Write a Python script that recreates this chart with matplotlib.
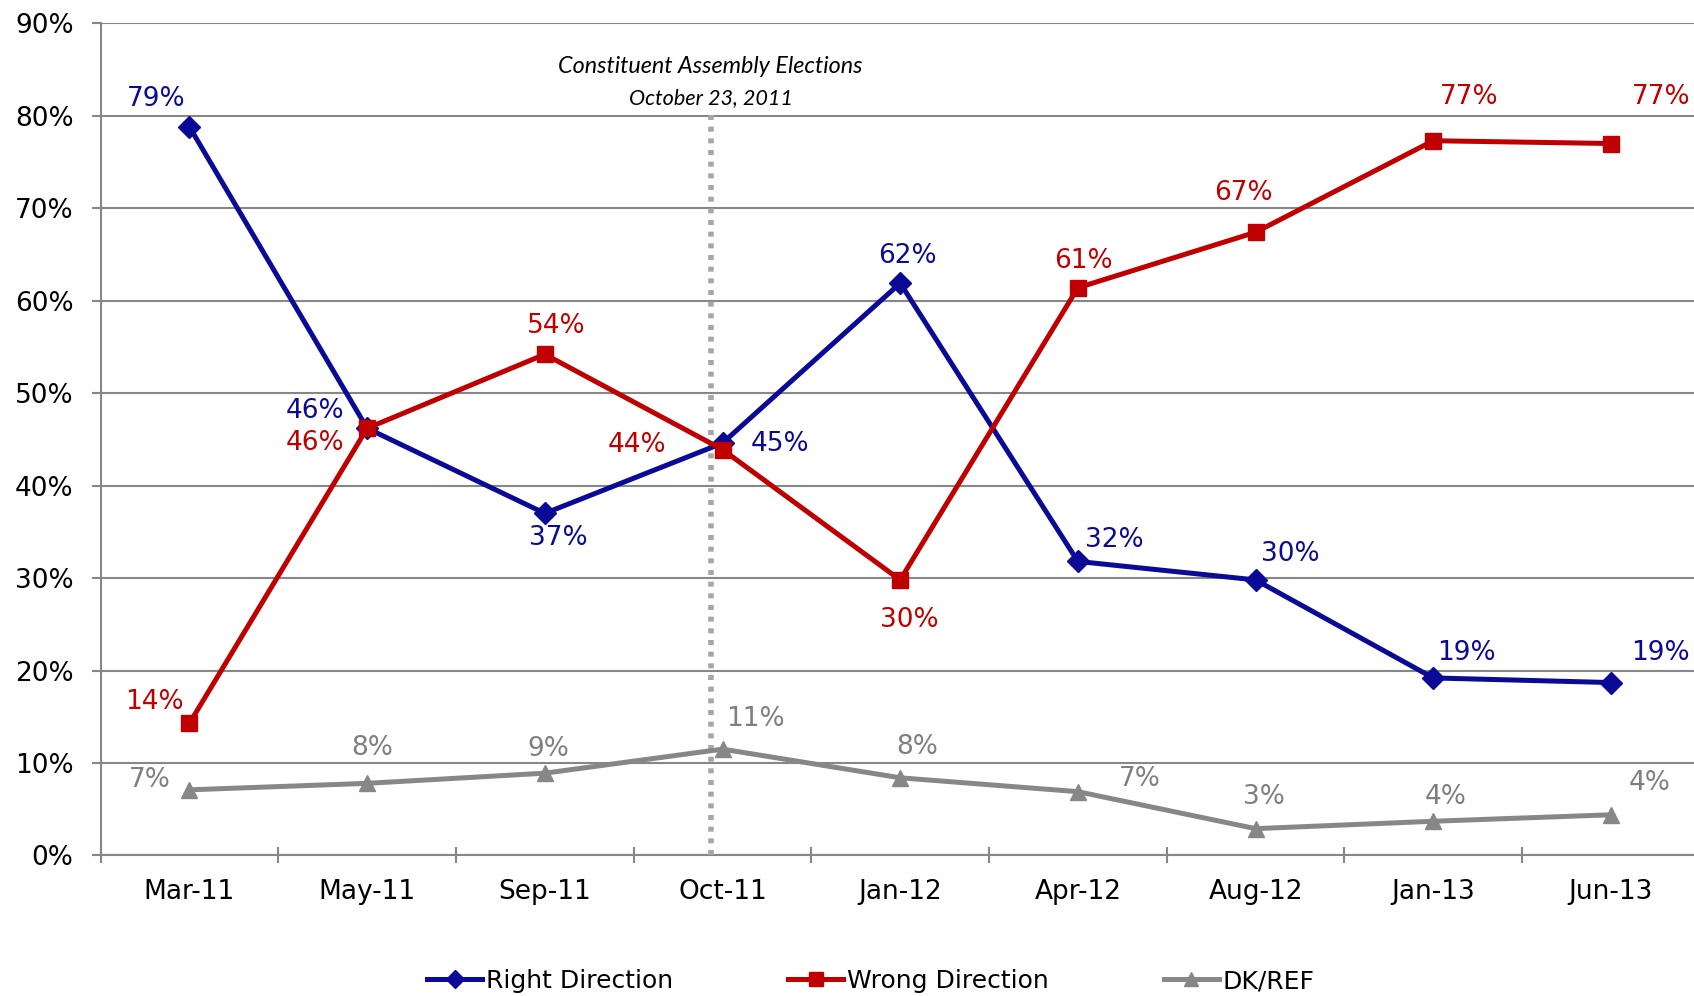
import matplotlib.pyplot as plt

# datos
fechas = ["Mar-11", "May-11", "Sep-11", "Oct-11", "Jan-12", "Apr-12", "Aug-12", "Jan-13", "Jun-13"]
derecha = [78.8, 46.2, 37.0, 44.6, 61.9, 31.8, 29.8, 19.2, 18.7]
equivocada = [14.3, 46.2, 54.2, 43.9, 29.8, 61.4, 67.4, 77.3, 77.0]
nsnc = [7.1, 7.8, 8.9, 11.5, 8.4, 6.9, 2.9, 3.7, 4.4]
etq_derecha = ["79%", "46%", "37%", "45%", "62%", "32%", "30%", "19%", "19%"]
etq_equivocada = ["14%", "46%", "54%", "44%", "30%", "61%", "67%", "77%", "77%"]
etq_nsnc = ["7%", "8%", "9%", "11%", "8%", "7%", "3%", "4%", "4%"]

# desplazamientos de las etiquetas
k = 0.78
off_derecha = [(-31, 26), (-48, 16), (12, -23), (53, -1), (7, 25), (34, 20), (32, 24), (31, 23), (46, 27)]
off_equivocada = [(-32, 20), (-48, -14), (11, 26), (-79, 4), (8, -37), (5, 25), (-11, 36), (33, 40), (46, 43)]
off_nsnc = [(-37, 9), (5, 33), (3, 22), (30, 28), (16, 28), (57, 12), (8, 29), (11, 22), (36, 29)]

azul = "#0A0A96"
rojo = "#C00000"
gris = "#878787"

fig = plt.figure(figsize=(16.94, 9.96), dpi=100)
ax = fig.add_axes([0.0594, 0.1411, 0.944, 0.8355])
x = list(range(len(fechas)))

l1, = ax.plot(x, derecha, color=azul, lw=3.6, marker="D", ms=11, label="Right Direction", zorder=4)
l2, = ax.plot(x, equivocada, color=rojo, lw=3.6, marker="s", ms=12, label="Wrong Direction", zorder=4)
l3, = ax.plot(x, nsnc, color=gris, lw=3.6, marker="^", ms=12, label="DK/REF", zorder=4)

for vals, etqs, offs, col in [(derecha, etq_derecha, off_derecha, azul),
                              (equivocada, etq_equivocada, off_equivocada, rojo),
                              (nsnc, etq_nsnc, off_nsnc, "#7F7F7F")]:
    for i in range(len(vals)):
        ax.annotate(etqs[i], (x[i], vals[i]), xytext=(offs[i][0] * k, offs[i][1] * k),
                    textcoords="offset points", ha="center", va="center",
                    fontsize=19, color=col, zorder=5)

# linea de elecciones
ax.plot([2.933, 2.933], [0, 80.2], color="#A6A6A6", lw=4, ls=(0, (0.9, 1.2)),
        solid_capstyle="butt", zorder=3)
ax.text(2.933, 85.3, "Constituent Assembly Elections", ha="center", va="center",
        fontsize=16.8, style="italic", family="Lato")
ax.text(2.933, 81.9, "October 23, 2011", ha="center", va="center",
        fontsize=15.6, style="italic", family="Lato")

ax.set_xlim(-0.5, 8.5)
ax.set_ylim(0, 90)
ax.set_yticks(range(0, 91, 10))
ax.set_yticklabels([f"{v}%" for v in range(0, 91, 10)])
ax.set_xticks(x)
ax.set_xticklabels(fechas)
ax.set_xticks([i + 0.5 for i in range(-1, 9)], minor=True)
ax.tick_params(axis="x", which="major", length=0, pad=17, labelsize=19)
ax.tick_params(axis="x", which="minor", length=12, direction="inout", color=gris, width=1.5)
ax.tick_params(axis="y", length=6.5, color=gris, width=1.5, pad=13, labelsize=19)
ax.grid(axis="y", color=gris, lw=1.5)
ax.set_axisbelow(True)
for s in ["top", "right"]:
    ax.spines[s].set_visible(False)
for s in ["left", "bottom"]:
    ax.spines[s].set_color(gris)
    ax.spines[s].set_linewidth(1.5)

fig.legend(handles=[l1, l2, l3], loc="center", bbox_to_anchor=(0.514, 0.015), ncol=3,
           frameon=False, handlelength=2.2, columnspacing=4.6, handletextpad=0.15,
           prop={"family": "DejaVu Sans", "size": 18}, markerscale=0.8)

fig.savefig("out.png", dpi=100)
